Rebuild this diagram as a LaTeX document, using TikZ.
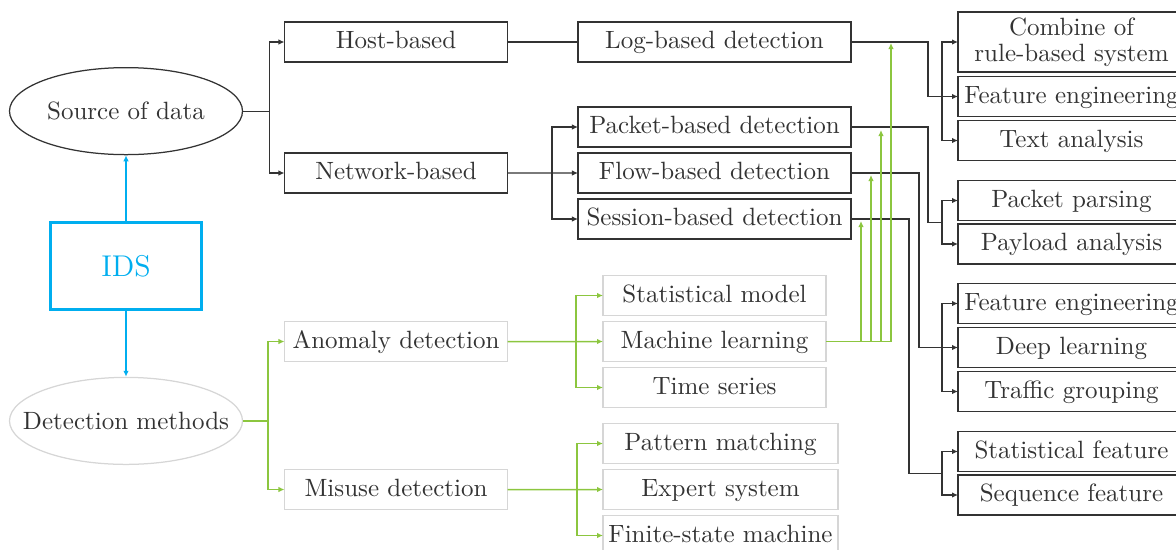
\documentclass[tikz,border=0pt]{standalone}
\usepackage{tikz}
\usetikzlibrary{arrows.meta}
\usetikzlibrary{shapes.geometric}
\usetikzlibrary{calc}
\usetikzlibrary{positioning}

\definecolor{idsblue}{HTML}{00AEEF}
\definecolor{mgreen}{HTML}{8CC63F}
\definecolor{softgray}{HTML}{D6D6D6}
\definecolor{inkgray}{HTML}{333333}

\begin{document}
\begin{tikzpicture}[x=0.4pt,y=-0.4pt,
  >={Latex[length=2.4pt,width=2.2pt]},
  blkbox/.style={draw=inkgray,line width=0.5pt,text=inkgray,minimum height=16pt,
    inner sep=0pt,outer sep=0pt,text height=1.5ex,text depth=.25ex},
  grybox/.style={blkbox,draw=softgray},
  rbox/.style={blkbox,minimum width=90.8pt},
  oval/.style={ellipse,draw=inkgray,line width=0.5pt,text=inkgray,
    minimum width=93.2pt,minimum height=34.8pt,inner sep=0pt},
  idsbox/.style={draw=idsblue,line width=1pt,text=idsblue,font=\large,
    minimum width=60.4pt,minimum height=34.8pt},
  conn/.style={draw=inkgray,line width=0.5pt},
  gconn/.style={draw=mgreen,line width=0.6pt}]

  \useasboundingbox (0,0) rectangle (1176,549);

  \node[idsbox] (ids) at (126,266) {IDS};
  \node[oval] (src) [above=26.4pt of ids] {\makebox[0pt]{Source of data}};
  \node[oval,draw=softgray] (det) [below=26.4pt of ids] {\makebox[0pt]{Detection methods}};

  \node[blkbox,minimum width=89.2pt] (host) at (396,42) {Host-based};
  \node[blkbox,minimum width=89.2pt] (net) at (396,173) {Network-based};
  \node[grybox,minimum width=89.2pt] (ano) at (396,341.5) {Anomaly detection};
  \node[grybox,minimum width=89.2pt] (mis) at (396,489.5) {Misuse detection};

  \node[blkbox,minimum width=109.2pt] (log) at (714.5,42) {Log-based detection};
  \node[blkbox,minimum width=109.2pt] (pkt) at (714.5,127) {Packet-based detection};
  \node[blkbox,minimum width=109.2pt] (flow) [below=2.4pt of pkt] {Flow-based detection};
  \node[blkbox,minimum width=109.2pt] (sess) [below=2.4pt of flow] {Session-based detection};

  \node[grybox,minimum width=89.2pt] (stat) at (714.5,295.5) {Statistical model};
  \node[grybox,minimum width=89.2pt] (ml) [below=2.4pt of stat] {Machine learning};
  \node[grybox,minimum width=89.2pt] (ts) [below=2.4pt of ml] {Time series};

  \node[grybox,minimum width=94pt] (pat) at (720.5,443.5) {Pattern matching};
  \node[grybox,minimum width=94pt] (exp) [below=2.4pt of pat] {Expert system};
  \node[grybox,minimum width=94pt] (fsm) [below=2.4pt of exp] {Finite-state machine};

  \node[rbox,minimum height=24pt,align=center,text height=,text depth=] (comb) at (1071.5,42)
    {Combine of\\[-1.4pt]rule-based system};
  \node[rbox] (fe1) [below=1.8pt of comb] {Feature engineering};
  \node[rbox] (ta) [below=1.6pt of fe1] {Text analysis};
  \node[rbox] (pp) at (1071.5,200.5) {Packet parsing};
  \node[rbox] (pa) [below=1.4pt of pp] {Payload analysis};
  \node[rbox] (fe2) at (1071.5,303.5) {Feature engineering};
  \node[rbox] (dl) [below=1.6pt of fe2] {Deep learning};
  \node[rbox] (tg) [below=1.6pt of dl] {Traffic grouping};
  \node[rbox] (sf) at (1071.5,451.5) {Statistical feature};
  \node[rbox] (sq) [below=1.4pt of sf] {Sequence feature};

  \draw[idsblue,line width=0.6pt,->] (ids) -- (src);
  \draw[idsblue,line width=0.6pt,->] (ids) -- (det);

  \coordinate (fsrc) at ($(src.east)+(26,0)$);
  \draw[conn] (src.east) -- (fsrc);
  \draw[conn,->] (fsrc) |- (host.west);
  \draw[conn,->] (fsrc) |- (net.west);

  \draw[conn] (host) -- (log);
  \draw[conn,->] (net) -- (flow);
  \coordinate (fnet) at ($(flow.west)+(-26,0)$);
  \draw[conn,->] (fnet) |- (pkt.west);
  \draw[conn,->] (fnet) |- (sess.west);

  \draw[conn,->] (log.east) -- ++(77,0) |- (fe1.west);
  \coordinate (flog) at ($(fe1.west)+(-16,0)$);
  \draw[conn,->] (flog) |- (comb.west);
  \draw[conn,->] (flog) |- (ta.west);

  \coordinate (fpkt) at ($(pp.west)!0.5!(pa.west)+(-16,0)$);
  \draw[conn] (pkt.east) -- ++(77,0) |- (fpkt);
  \draw[conn,->] (fpkt) |- (pp.west);
  \draw[conn,->] (fpkt) |- (pa.west);

  \draw[conn,->] (flow.east) -- ++(68,0) |- (dl.west);
  \coordinate (fflow) at ($(dl.west)+(-16,0)$);
  \draw[conn,->] (fflow) |- (fe2.west);
  \draw[conn,->] (fflow) |- (tg.west);

  \coordinate (fsess) at ($(sf.west)!0.5!(sq.west)+(-16,0)$);
  \draw[conn] (sess.east) -- ++(58,0) |- (fsess);
  \draw[conn,->] (fsess) |- (sf.west);
  \draw[conn,->] (fsess) |- (sq.west);

  \coordinate (fdet) at ($(det.east)+(25,0)$);
  \draw[gconn] (det.east) -- (fdet);
  \draw[gconn,->] (fdet) |- (ano.west);
  \draw[gconn,->] (fdet) |- (mis.west);

  \draw[gconn,->] (ano) -- (ml);
  \coordinate (fano) at ($(ml.west)+(-27,0)$);
  \draw[gconn,->] (fano) |- (stat.west);
  \draw[gconn,->] (fano) |- (ts.west);

  \draw[gconn,->] (mis) -- (exp);
  \coordinate (fmis) at ($(exp.west)+(-26,0)$);
  \draw[gconn,->] (fmis) |- (pat.west);
  \draw[gconn,->] (fmis) |- (fsm.west);

  \coordinate (gsess) at ($(sess.east)+(10,2)$);
  \coordinate (gflow) at ($(flow.east)+(20,2)$);
  \coordinate (gpkt) at ($(pkt.east)+(30,3)$);
  \coordinate (glog) at ($(log.east)+(40,1)$);
  \draw[gconn,->] (ml.east) -| (gsess);
  \draw[gconn,->] (ml.east) -| (gflow);
  \draw[gconn,->] (ml.east) -| (gpkt);
  \draw[gconn,->] (ml.east) -| (glog);

\end{tikzpicture}
\end{document}
